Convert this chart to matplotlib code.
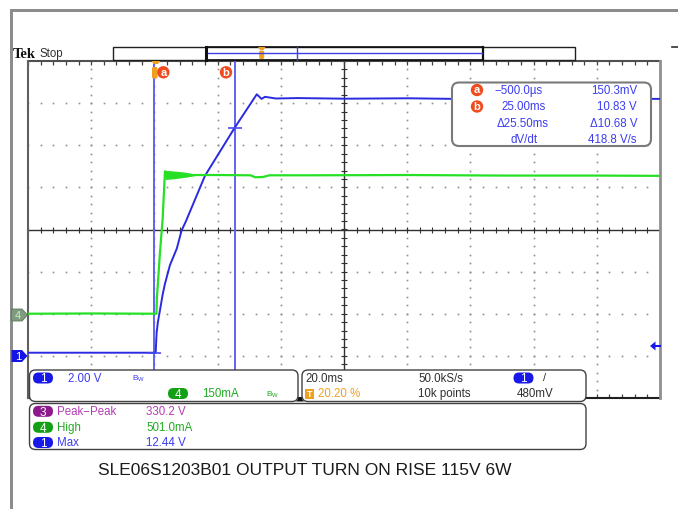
import matplotlib
matplotlib.use('Agg')
import matplotlib.pyplot as plt
from matplotlib.patches import FancyBboxPatch, Rectangle, Circle, Polygon
import numpy as np

W, H = 678, 510

# ---------------- data ----------------
t_lim = [-40.4, 159.6]          # ms, 20.0 ms/div, trigger at 20.20 %
ch1_lim = [-2.0, 14.0]          # V, 2.00 V/div, ground 3 div below centre
ch4_lim = [-300.0, 900.0]       # mA, 150 mA/div, ground 2 div below centre

ch1_t = [-40.4, -20.0, -5.0, 0.0, 0.3, 0.7, 1.4, 2.2, 2.9, 4.5, 6.7, 8.2, 9.6,
         15.6, 25.0, 32.0, 33.5, 34.6, 38.0, 45.0, 60.0, 80.0, 100.0, 120.0,
         140.0, 159.6]
ch1_v = [0.15, 0.15, 0.15, 0.15, 1.1, 1.6, 2.2, 2.9, 3.4, 4.3, 5.1, 5.95, 6.4,
         8.55, 10.83, 12.42, 12.2, 12.3, 12.22, 12.24, 12.21, 12.23, 12.19,
         12.22, 12.21, 12.2]

ch4_t = [-40.4, -20.0, 0.25, 0.4, 1.36, 2.2, 2.94, 6.0, 11.0, 20.0, 30.0, 31.5,
         34.0, 36.0, 50.0, 80.0, 110.0, 140.0, 159.6]
ch4_ma = [0, 1, 0, 58, 218, 336, 507, 495, 494, 494, 493, 486, 487, 493, 493,
          494, 492, 492, 491]
band_t = [2.94, 4.0, 6.0, 8.0, 10.0, 11.5, 12.5]
band_hi = [510, 510, 508, 506, 503, 499, 497]
band_lo = [478, 479, 481, 484, 487, 490, 492]

cursor_t = [-0.5, 25.0]
cursor_v = [0.1503, 10.83]

cursor_rows = [("a", "\u2212500.0\u00b5s", "150.3mV"),
               ("b", "25.00ms", "10.83 V"),
               ("", "\u039425.50ms", "\u039410.68 V"),
               ("", "dV/dt", "418.8 V/s")]
meas_rows = [("3", "Peak\u2212Peak", "330.2 V", "#8c1a8c", "#b43cb4"),
             ("4", "High", "501.0mA", "#14a014", "#22aa22"),
             ("1", "Max", "12.44 V", "#1818e8", "#3c3cf0")]
caption = "SLE06S1203B01 OUTPUT TURN ON RISE 115V 6W"

# ---------------- figure ----------------
FONT = 'Liberation Sans'
fig = plt.figure(figsize=(W / 100, H / 100), dpi=100)
fig.patch.set_facecolor('white')

gl, gt, gr, gb = 28, 62, 660, 399
pos = [gl / W, 1 - gb / H, (gr - gl) / W, (gb - gt) / H]

# graticule (division units)
ag = fig.add_axes(pos, zorder=0)
ag.set_xlim(-5, 5)
ag.set_ylim(-4, 4)
ag.set_axis_off()
dot_c = '#8e8e8e'
for xg in [-4, -3, -2, -1, 1, 2, 3, 4]:
    yy = np.arange(-4, 4.001, 0.2)
    ag.plot(np.full_like(yy, xg), yy, ls='none', marker='s', ms=1.2, mew=0, color=dot_c)
for yg in [-3, -2, -1, 1, 2, 3]:
    xx = np.arange(-5, 5.001, 0.2)
    ag.plot(xx, np.full_like(xx, yg), ls='none', marker='s', ms=1.2, mew=0, color=dot_c)
ag.axhline(0, color='#303030', lw=1.0)
ag.axvline(0, color='#303030', lw=1.0)
xx = np.arange(-5, 5.001, 0.2)
yy = np.arange(-4, 4.001, 0.2)
ag.plot(xx, np.zeros_like(xx), ls='none', marker='|', ms=4, mew=0.8, color='#303030')
ag.plot(np.zeros_like(yy), yy, ls='none', marker='_', ms=4, mew=0.8, color='#303030')
ag.plot(xx, np.full_like(xx, 4), ls='none', marker=3, ms=3, mew=0.9, color='#404040')
ag.plot(xx, np.full_like(xx, -4), ls='none', marker=2, ms=3, mew=0.9, color='#404040')
ag.plot(np.full_like(yy, -5), yy, ls='none', marker=0, ms=3, mew=0.9, color='#404040')
ag.plot(np.full_like(yy, 5), yy, ls='none', marker=1, ms=3, mew=0.9, color='#404040')
ag.plot([-5, 5], [4, 4], color='#505050', lw=1.5, clip_on=False)
ag.plot([-5, 5], [-4, -4], color='#202020', lw=1.5, clip_on=False)
ag.plot([-5, -5], [-4, 4], color='#606060', lw=1.5, clip_on=False)
ag.plot([5, 5], [-4, 4], color='#909090', lw=2.0, clip_on=False)

# channel 1 (blue)
a1 = fig.add_axes(pos, zorder=1)
a1.set_xlim(*t_lim)
a1.set_ylim(*ch1_lim)
a1.set_axis_off()
for tc in cursor_t:
    a1.axvline(tc, color='#6262f0', lw=1.4)
a1.plot(ch1_t, ch1_v, color='#2a2ae0', lw=1.4)
a1.plot(cursor_t, cursor_v, ls='none', marker='_', ms=9.5, mew=1.2, color='#4a4af0')

# channel 4 (green)
a4 = fig.add_axes(pos, zorder=2)
a4.set_xlim(*t_lim)
a4.set_ylim(*ch4_lim)
a4.set_axis_off()
a4.plot(ch4_t, ch4_ma, color='#26e026', lw=1.6)
a4.fill_between(band_t, band_lo, band_hi, color='#26e026', lw=0)

# overlay in pixel coordinates
ao = fig.add_axes([0, 0, 1, 1], zorder=3)
ao.set_xlim(0, W)
ao.set_ylim(H, 0)
ao.set_axis_off()
ao.patch.set_alpha(0)


def txt(x, y, s, color='#303030', size=8.3, ha='left', **kw):
    ao.text(x, y, s, color=color, fontsize=size, ha=ha, va='center',
            family=FONT, **kw)


def rbox(x0, y0, x1, y1, r=6, ec='#404040', lw=1.0, fc='white'):
    ao.add_patch(FancyBboxPatch((x0, y0), x1 - x0, y1 - y0,
                                boxstyle=f'round,pad=0,rounding_size={r}',
                                fc=fc, ec=ec, lw=lw))


def pill(cx, cy, label, fc):
    ao.add_patch(FancyBboxPatch((cx - 10, cy - 5.5), 20, 11,
                                boxstyle='round,pad=0,rounding_size=5.5',
                                fc=fc, ec='none'))
    ao.text(cx, cy + 0.3, label, color='white', fontsize=8.5, ha='center',
            va='center', family=FONT)


# outer grey frame
ao.add_patch(Rectangle((10, 10), W - 10, 2.5, fc='#8c8c8c', ec='none'))
ao.add_patch(Rectangle((10, 10), 2.5, H - 10, fc='#8c8c8c', ec='none'))
ao.plot([672, 678], [48, 48], color='#303030', lw=1.2)

# top status
ao.text(12.5, 55, "Tek", fontsize=10.5, fontweight='bold', family='Liberation Serif',
        ha='left', va='center', color='#101010')
txt(40, 54.5, "Stop", size=8.3)

# record bar
ao.add_patch(Rectangle((113, 48), 462, 13, fc='white', ec='#202020', lw=1.0))
ao.add_patch(Rectangle((206, 48), 277, 13, fc='none', ec='#101010', lw=1.2))
ao.plot([206, 206], [48, 61], color='#101010', lw=2.2)
ao.plot([483, 483], [48, 61], color='#101010', lw=1.6)
ao.plot([208, 482], [54, 54], color='#4040e0', lw=1.0)
ao.plot([297, 297], [48, 61], color='#4040e0', lw=1.0)
orange = '#f0a020'
ao.add_patch(Polygon([(258, 48), (265.5, 48), (263.5, 51), (260, 51)], fc=orange, ec='none'))
ao.add_patch(FancyBboxPatch((259.2, 51.5), 5, 8.5, boxstyle='round,pad=0,rounding_size=1.5',
                            fc=orange, ec='none'))

# trigger marker + cursor labels at top of graticule
ao.add_patch(Polygon([(151.5, 62), (160, 62), (158, 65), (153.5, 65)], fc=orange, ec='none'))
ao.add_patch(FancyBboxPatch((152, 68), 5.5, 11.5, boxstyle='round,pad=0,rounding_size=1.5',
                            fc=orange, ec='none'))
red = '#f04a1e'
for cx, lab in [(163.3, 'a'), (226, 'b')]:
    ao.add_patch(Circle((cx, 73.3), 6.2, fc=red, ec='none'))
    ao.text(cx, 72.6, lab, color='white', fontsize=8, fontweight='bold', ha='center',
            va='center', family=FONT)

# channel ground markers on the left
ao.add_patch(Polygon([(11.5, 310), (22, 310), (27.5, 316), (22, 322), (11.5, 322)],
                     fc='#7f9a7f', ec='#5e7a5e', lw=0.6))
ao.text(18, 316.3, "4", color='#c8f0c8', fontsize=8, ha='center', va='center', family=FONT)
ao.add_patch(Polygon([(11.5, 351), (22, 351), (27.5, 357), (22, 363), (11.5, 363)],
                     fc='#1414e6', ec='none'))
ao.text(18, 357.3, "1", color='white', fontsize=8, ha='center', va='center', family=FONT)

# trigger level arrow on the right
ao.add_patch(Polygon([(650, 347), (655.5, 342.5), (655.5, 351.5)], fc='#1a1ae6', ec='none'))
ao.plot([655, 660], [347, 347], color='#1a1ae6', lw=1.5)

# cursor readout box
rbox(452, 83.5, 651, 147, r=7, ec='#7a7a7a', lw=1.5)
row_y = [91, 107.5, 124, 140]
left_cx = [519, 523.5, 522.5, 524.5]
blue_txt = '#3c3cf0'
for (lab, lt, rt), y, cx in zip(cursor_rows, row_y, left_cx):
    if lab:
        ao.add_patch(Circle((477, y), 6.2, fc=red, ec='none'))
        ao.text(477, y - 0.6, lab, color='white', fontsize=8, fontweight='bold',
                ha='center', va='center', family=FONT)
    txt(cx, y, lt, color=blue_txt, ha='center')
    txt(637, y, rt, color=blue_txt, ha='right')

# bottom channel box
rbox(29.5, 371, 298, 402.5, r=6)
pill(43, 379, "1", '#1818e8')
txt(67.5, 379, "2.00 V", color=blue_txt)
txt(131.5, 379, r"$\mathregular{B_W}$", color=blue_txt, size=6)
pill(178, 394.5, "4", '#14a014')
txt(202, 394.5, "150mA", color='#22aa22')
txt(266.5, 394.5, r"$\mathregular{B_W}$", color='#22aa22', size=6)

# horizontal / acquisition box
rbox(302, 371, 586, 402.5, r=6)
ao.add_patch(Polygon([(296, 402.5), (300, 398), (304, 402.5)], fc='#101010', ec='none'))
txt(305, 379, "20.0ms")
ao.add_patch(Rectangle((305, 389.5), 9, 10, fc=orange, ec='none'))
ao.text(309.5, 394.6, "T", color='white', fontsize=6.5, fontweight='bold', ha='center',
        va='center', family=FONT)
txt(318, 394.5, "20.20 %", color=orange)
txt(418, 379, "50.0kS/s")
txt(418, 394.5, "10k points")
pill(523.5, 379, "1", '#1818e8')
txt(543, 378.5, "/", size=8)
txt(516.5, 394.5, "480mV")

# measurement box
rbox(29.5, 404.5, 586, 450.5, r=6)
for (n, lab, val, pc, tc), y in zip(meas_rows, [412.3, 428.3, 443.5]):
    pill(43, y, n, pc)
    txt(57.5, y, lab, color=tc)
    txt(146.5, y, val, color=tc)

# caption
ao.text(305, 470.5, caption, fontsize=12.5, family=FONT, ha='center', va='center',
        color='#1a1a1a')

fig.savefig('out.png', dpi=100, facecolor='white')
